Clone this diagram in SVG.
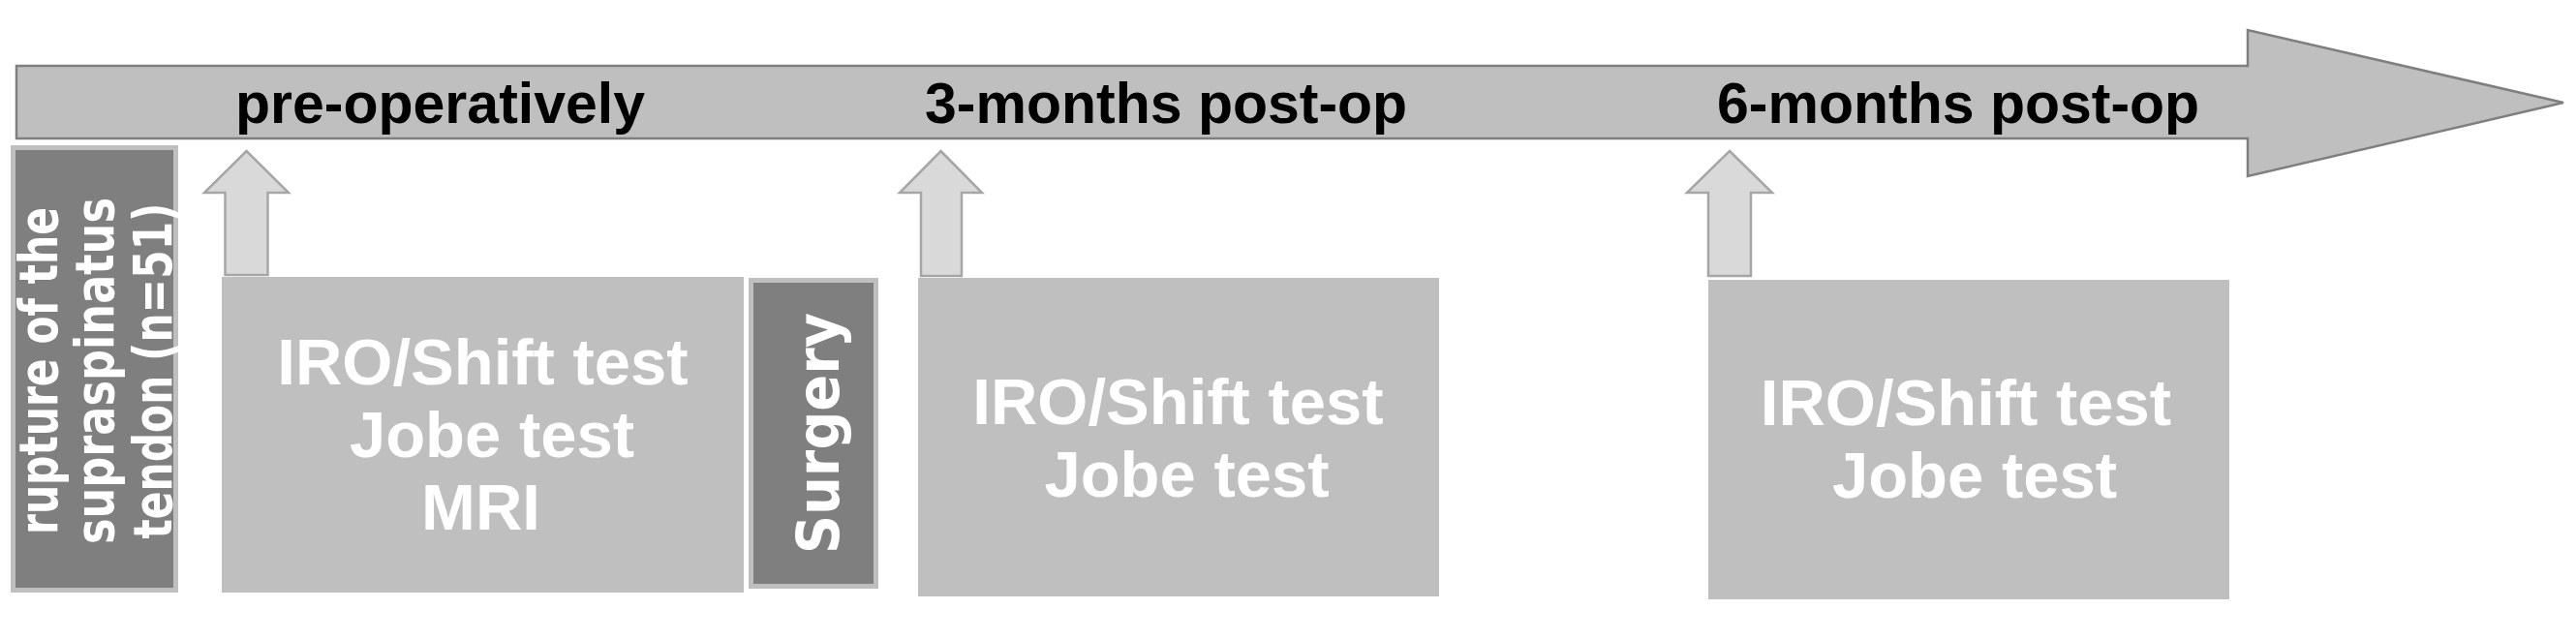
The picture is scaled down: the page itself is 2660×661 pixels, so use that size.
<svg xmlns="http://www.w3.org/2000/svg" width="2660" height="661" viewBox="0 0 2660 661">
<style>
.bg{fill:#ffffff}
.bar{fill:#bfbfbf;stroke:#7f7f7f;stroke-width:2.5}
.lbl{font-family:"Liberation Sans",Arial,sans-serif;font-weight:bold;font-size:59px;fill:#000000}
.box{fill:#bfbfbf}
.dark{fill:#7f7f7f;stroke:#bfbfbf;stroke-width:5}
.wt{font-family:"Liberation Sans",Arial,sans-serif;font-weight:bold;font-size:67px;fill:#ffffff;text-anchor:middle}
.rt{font-family:"DejaVu Sans",Verdana,sans-serif;font-weight:bold;font-size:55px;fill:#ffffff;text-anchor:middle}
.up{fill:#d9d9d9;stroke:#a6a6a6;stroke-width:2.5;stroke-linejoin:miter}
</style>
<rect class="bg" x="0" y="0" width="2660" height="661"/>
<g id="timeline">
<polygon class="bar" points="17,68 2321,68 2321,31 2647,106 2321,182 2321,143 17,143"/>
<text class="lbl" x="243" y="127">pre-operatively</text>
<text class="lbl" x="955" y="127">3-months post-op</text>
<text class="lbl" x="1773" y="127">6-months post-op</text>
</g>
<g id="rupture">
<rect class="dark" x="13.5" y="152.5" width="168" height="457"/>
<g transform="translate(0,383) rotate(-90)">
<text class="rt" x="0" y="59" textLength="338" lengthAdjust="spacingAndGlyphs">rupture of the</text>
<text class="rt" x="0" y="117" textLength="358" lengthAdjust="spacingAndGlyphs">supraspinatus</text>
<text class="rt" x="0" y="177" textLength="347" lengthAdjust="spacingAndGlyphs">tendon (n=51)</text>
</g>
</g>
<g id="preop">
<rect class="box" x="229" y="286" width="539" height="326"/>
<text class="wt" x="498.5" y="397">IRO/Shift test</text>
<text class="wt" x="508" y="472">Jobe test</text>
<text class="wt" x="496.5" y="547">MRI</text>
</g>
<g id="surgery">
<rect class="dark" x="775.5" y="289.5" width="129" height="316"/>
<text class="rt" transform="translate(866,447.5) rotate(-90)" x="0" y="0" textLength="249" lengthAdjust="spacingAndGlyphs" style="font-size:60px">Surgery</text>
</g>
<g id="post3">
<rect class="box" x="948" y="287" width="538" height="329"/>
<text class="wt" x="1216.5" y="438">IRO/Shift test</text>
<text class="wt" x="1225.5" y="513">Jobe test</text>
</g>
<g id="post6">
<rect class="box" x="1764" y="289" width="538" height="330"/>
<text class="wt" x="2030" y="439">IRO/Shift test</text>
<text class="wt" x="2039" y="514">Jobe test</text>
</g>
<g id="connectors">
<polygon class="up" points="254.5,156 298,199 276.5,199 276.5,284 232.5,284 232.5,199 211,199"/>
<polygon class="up" points="971.5,156 1014,199 993,199 993,285 951,285 951,199 929,199"/>
<polygon class="up" points="1786,156 1830,199 1808,199 1808,285 1764,285 1764,199 1742,199"/>
</g>
</svg>
